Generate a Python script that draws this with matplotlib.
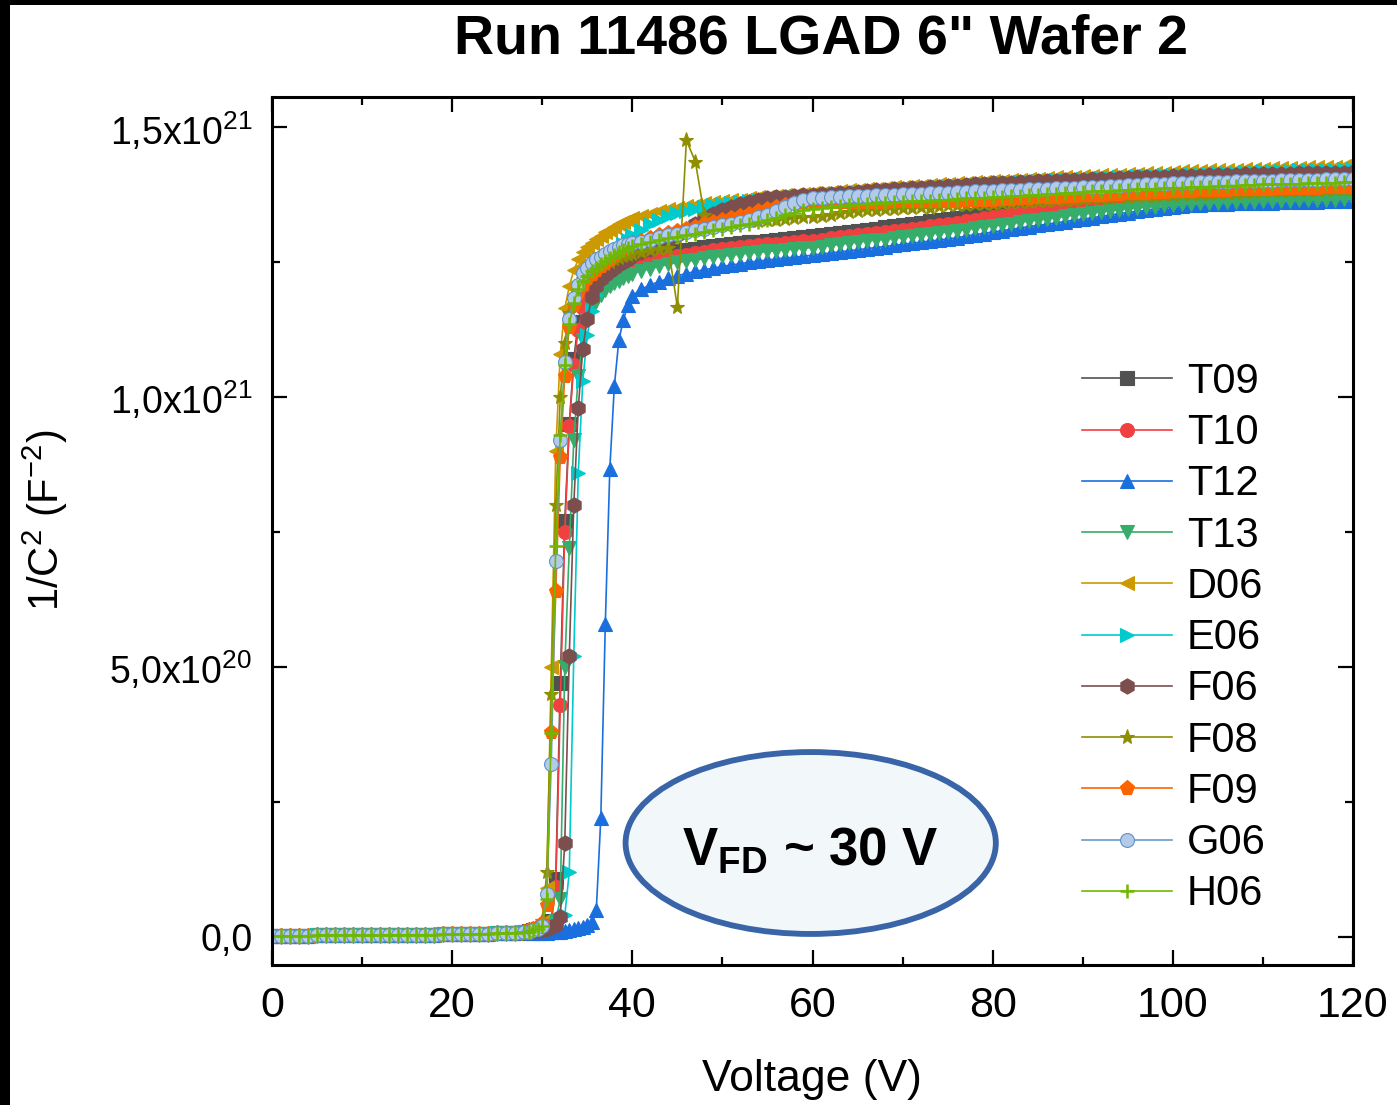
import numpy as np
import matplotlib
matplotlib.use('Agg')
import matplotlib.pyplot as plt
from matplotlib.patches import Ellipse, Rectangle
from matplotlib.ticker import MultipleLocator

plt.rcParams['font.family'] = ['Liberation Sans', 'DejaVu Sans']
plt.rcParams['mathtext.fontset'] = 'custom'
plt.rcParams['mathtext.rm'] = 'Liberation Sans'
plt.rcParams['mathtext.bf'] = 'Liberation Sans:bold'

# Voltage sweep (V): 1 V steps, 0.5 V steps around the depletion knee
volts = np.concatenate([np.arange(0, 29), np.arange(28.5, 40.01, 0.5), np.arange(41, 121)])

# 1/C^2 values in units of 1e19 F^-2
# common baseline 0..28 V
base = [0.2, 0.2, 0.2, 0.2, 0.2, 0.3, 0.3, 0.3, 0.3, 0.3, 0.3, 0.3, 0.3, 0.4, 0.4,
        0.4, 0.4, 0.4, 0.4, 0.5, 0.5, 0.5, 0.5, 0.6, 0.6, 0.7, 0.7, 0.8, 0.9]

# knee 28.5..40 V (0.5 V steps)
t09_knee = [1.1, 1.2, 1.4, 1.6, 2.0, 3.0, 10.7, 47.0, 77.0, 95.0, 107.0, 114.0, 117.5, 119.5, 120.5, 121.4, 122.1, 122.7, 123.3, 123.8, 124.3, 124.7, 125.1, 125.5]
t10_knee = [1.0, 1.1, 1.3, 1.5, 1.9, 2.6, 9.3, 43.0, 75.0, 94.6, 106.0, 112.5, 116.5, 118.8, 120.0, 120.9, 121.6, 122.2, 122.7, 123.2, 123.6, 124.0, 124.4, 124.7]
t12_knee = [0.8, 0.8, 0.8, 0.8, 0.8, 0.9, 0.9, 1.0, 1.1, 1.2, 1.4, 1.6, 1.9, 2.2, 2.7, 5.0, 22.0, 58.0, 86.7, 102.0, 110.5, 114.3, 117.0, 118.8]
t13_knee = [1.0, 1.1, 1.2, 1.4, 1.7, 2.2, 3.0, 7.0, 50.0, 72.0, 92.0, 104.0, 110.5, 114.2, 116.3, 117.8, 118.9, 119.8, 120.5, 121.1, 121.6, 122.1, 122.5, 122.9]
d06_knee = [1.2, 1.4, 1.7, 2.8, 9.0, 50.0, 90.0, 108.0, 116.5, 120.5, 123.5, 125.5, 126.8, 127.8, 128.6, 129.3, 129.9, 130.5, 131.0, 131.5, 132.0, 132.4, 132.8, 133.2]
e06_knee = [1.0, 1.1, 1.2, 1.4, 1.6, 1.9, 2.3, 2.9, 4.0, 12.0, 52.0, 86.0, 103.0, 111.5, 116.0, 119.0, 121.3, 123.2, 124.8, 126.2, 127.4, 128.4, 129.2, 130.0]
f06_knee = [1.0, 1.1, 1.2, 1.3, 1.5, 1.8, 2.3, 3.7, 17.4, 52.0, 80.0, 98.0, 109.0, 114.5, 118.5, 120.5, 121.8, 122.7, 123.4, 124.0, 124.6, 125.1, 125.6, 126.1]
f08_knee = [1.2, 1.4, 1.8, 3.0, 12.0, 45.0, 80.0, 100.0, 110.0, 115.5, 118.5, 120.5, 121.8, 122.7, 123.3, 123.8, 124.3, 124.7, 125.1, 125.5, 125.8, 126.1, 126.4, 126.6]
f09_knee = [1.2, 1.4, 1.7, 2.5, 6.0, 38.0, 64.0, 89.0, 104.0, 113.0, 117.0, 119.5, 121.0, 122.0, 122.8, 123.5, 124.2, 124.9, 125.6, 126.3, 127.0, 127.6, 128.1, 128.6]
g06_knee = [1.0, 1.2, 1.5, 2.0, 8.0, 32.0, 69.7, 92.0, 106.5, 114.4, 118.3, 120.7, 123.0, 124.0, 124.8, 125.5, 126.0, 126.5, 127.0, 127.4, 127.8, 128.1, 128.4, 128.6]
h06_knee = [1.0, 1.2, 1.5, 2.0, 7.0, 37.8, 72.4, 93.0, 106.0, 113.5, 117.5, 120.0, 121.5, 122.5, 123.3, 124.0, 124.6, 125.2, 125.8, 126.3, 126.8, 127.3, 127.7, 128.0]

# plateau 41..120 V (1 V steps)
t09_plat = [126.0, 126.3, 126.5, 126.8, 127.0, 127.3, 127.5, 127.8, 128.0, 128.2,
            128.4, 128.5, 128.7, 128.8, 129.0, 129.2, 129.3, 129.5, 129.6, 129.8,
            130.0, 130.2, 130.4, 130.6, 130.8, 131.0, 131.2, 131.5, 131.7, 131.9,
            132.1, 132.3, 132.6, 132.8, 133.0, 133.2, 133.5, 133.7, 134.0, 134.2,
            134.4, 134.6, 134.9, 135.1, 135.3, 135.5, 135.7, 136.0, 136.2, 136.4,
            136.6, 136.8, 137.0, 137.1, 137.3, 137.4, 137.5, 137.6, 137.7, 137.8,
            137.9, 137.9, 138.0, 138.0, 138.1, 138.2, 138.2, 138.3, 138.3, 138.4,
            138.4, 138.5, 138.5, 138.6, 138.6, 138.6, 138.7, 138.7, 138.8, 138.8]
t10_plat = [125.0, 125.3, 125.6, 125.9, 126.2, 126.4, 126.7, 126.9, 127.2, 127.4,
            127.6, 127.8, 128.0, 128.1, 128.3, 128.4, 128.6, 128.7, 128.9, 129.0,
            129.2, 129.4, 129.6, 129.8, 130.0, 130.2, 130.4, 130.6, 130.8, 131.0,
            131.2, 131.4, 131.7, 131.9, 132.1, 132.3, 132.6, 132.8, 133.1, 133.3,
            133.5, 133.8, 134.0, 134.3, 134.5, 134.7, 134.9, 135.2, 135.4, 135.6,
            135.8, 136.0, 136.2, 136.4, 136.6, 136.8, 136.9, 137.0, 137.2, 137.3,
            137.4, 137.5, 137.6, 137.7, 137.8, 137.9, 137.9, 138.0, 138.1, 138.2,
            138.3, 138.3, 138.4, 138.4, 138.5, 138.6, 138.6, 138.7, 138.7, 138.8]
t12_plat = [120.0, 120.8, 121.4, 122.0, 122.5, 122.9, 123.3, 123.6, 123.9, 124.2,
            124.5, 124.7, 125.0, 125.2, 125.4, 125.6, 125.8, 125.9, 126.1, 126.3,
            126.5, 126.7, 126.9, 127.1, 127.3, 127.5, 127.7, 127.9, 128.1, 128.3,
            128.5, 128.7, 128.9, 129.1, 129.3, 129.5, 129.8, 130.1, 130.3, 130.6,
            130.8, 131.1, 131.3, 131.6, 131.8, 132.0, 132.3, 132.5, 132.8, 133.0,
            133.2, 133.5, 133.7, 134.0, 134.2, 134.4, 134.6, 134.9, 135.1, 135.3,
            135.4, 135.5, 135.6, 135.7, 135.8, 135.8, 135.9, 135.9, 136.0, 136.0,
            136.0, 136.1, 136.1, 136.2, 136.2, 136.2, 136.3, 136.3, 136.4, 136.4]
t13_plat = [123.4, 123.8, 124.2, 124.6, 125.0, 125.2, 125.4, 125.7, 125.9, 126.1,
            126.3, 126.5, 126.7, 126.8, 127.0, 127.1, 127.3, 127.4, 127.6, 127.7,
            127.9, 128.1, 128.3, 128.5, 128.7, 128.9, 129.1, 129.2, 129.4, 129.6,
            129.8, 130.0, 130.2, 130.4, 130.6, 130.8, 131.0, 131.3, 131.5, 131.7,
            131.9, 132.1, 132.4, 132.6, 132.8, 133.0, 133.2, 133.5, 133.7, 133.9,
            134.1, 134.3, 134.5, 134.7, 134.9, 135.0, 135.2, 135.3, 135.5, 135.6,
            135.7, 135.8, 135.9, 135.9, 136.0, 136.1, 136.1, 136.2, 136.2, 136.3,
            136.3, 136.4, 136.4, 136.5, 136.5, 136.5, 136.6, 136.6, 136.7, 136.7]
d06_plat = [133.6, 134.0, 134.4, 134.8, 135.1, 135.4, 135.6, 135.9, 136.1, 136.3,
            136.5, 136.6, 136.8, 137.0, 137.1, 137.3, 137.4, 137.5, 137.7, 137.8,
            137.9, 138.0, 138.2, 138.3, 138.4, 138.5, 138.6, 138.8, 138.9, 139.0,
            139.1, 139.2, 139.3, 139.4, 139.5, 139.6, 139.7, 139.8, 139.9, 140.0,
            140.1, 140.2, 140.3, 140.4, 140.5, 140.6, 140.7, 140.7, 140.8, 140.9,
            141.0, 141.1, 141.2, 141.2, 141.3, 141.4, 141.5, 141.6, 141.6, 141.7,
            141.8, 141.8, 141.9, 142.0, 142.0, 142.1, 142.1, 142.2, 142.3, 142.3,
            142.4, 142.4, 142.5, 142.5, 142.6, 142.6, 142.7, 142.7, 142.8, 142.8]
e06_plat = [131.0, 132.0, 132.8, 133.5, 134.1, 134.5, 134.9, 135.2, 135.5, 135.8,
            136.0, 136.1, 136.3, 136.5, 136.6, 136.7, 136.8, 137.0, 137.1, 137.2,
            137.3, 137.4, 137.6, 137.7, 137.8, 137.9, 138.0, 138.2, 138.3, 138.4,
            138.5, 138.6, 138.7, 138.9, 139.0, 139.1, 139.2, 139.3, 139.4, 139.5,
            139.6, 139.7, 139.8, 139.9, 140.0, 140.1, 140.2, 140.2, 140.3, 140.4,
            140.5, 140.6, 140.6, 140.7, 140.8, 140.9, 141.0, 141.0, 141.1, 141.2,
            141.2, 141.3, 141.4, 141.4, 141.5, 141.6, 141.6, 141.7, 141.7, 141.8,
            141.8, 141.9, 141.9, 142.0, 142.0, 142.0, 142.1, 142.1, 142.2, 142.2]
f06_plat = [126.8, 127.5, 128.3, 129.1, 130.0, 131.0, 132.0, 133.0, 134.0, 134.7,
            135.3, 135.8, 136.2, 136.5, 136.8, 137.0, 137.1, 137.2, 137.4, 137.5,
            137.6, 137.7, 137.8, 137.9, 138.0, 138.1, 138.3, 138.4, 138.5, 138.6,
            138.7, 138.8, 138.9, 139.0, 139.1, 139.2, 139.3, 139.4, 139.5, 139.6,
            139.7, 139.7, 139.8, 139.9, 140.0, 140.1, 140.1, 140.2, 140.3, 140.3,
            140.4, 140.5, 140.5, 140.6, 140.6, 140.7, 140.7, 140.8, 140.8, 140.9,
            140.9, 141.0, 141.0, 141.1, 141.1, 141.2, 141.2, 141.3, 141.3, 141.3,
            141.4, 141.4, 141.4, 141.5, 141.5, 141.5, 141.6, 141.6, 141.6, 141.7]
f08_plat = [126.9, 127.2, 127.4, 127.6, 116.7, 147.6, 143.6, 133.7, 132.5, 132.3,
            132.4, 132.5, 132.6, 132.7, 132.8, 132.9, 133.0, 133.2, 133.3, 133.4,
            133.6, 133.8, 134.1, 134.3, 134.5, 134.6, 134.7, 134.8, 134.9, 135.0,
            135.1, 135.2, 135.0, 135.4, 135.6, 135.5, 135.6, 135.7, 135.7, 135.8,
            135.9, 136.0, 136.1, 136.2, 136.3, 136.4, 136.5, 136.5, 136.6, 136.7,
            136.8, 136.9, 136.9, 137.0, 137.1, 137.2, 137.3, 137.3, 137.4, 137.5,
            137.6, 137.6, 137.7, 137.7, 137.8, 137.9, 137.9, 138.0, 138.0, 138.1,
            138.1, 138.2, 138.2, 138.3, 138.3, 138.4, 138.4, 138.5, 138.5, 138.5]
f09_plat = [129.0, 129.5, 130.0, 130.4, 130.8, 131.2, 131.6, 132.0, 132.4, 132.8,
            133.2, 133.6, 134.0, 134.4, 134.8, 135.2, 135.6, 135.9, 136.1, 136.2,
            136.2, 136.2, 136.2, 136.2, 136.2, 136.2, 136.2, 136.2, 136.3, 136.3,
            136.3, 136.3, 136.3, 136.4, 136.4, 136.4, 136.5, 136.5, 136.6, 136.6,
            136.7, 136.7, 136.8, 136.9, 137.0, 137.0, 137.1, 137.2, 137.3, 137.4,
            137.5, 137.5, 137.6, 137.7, 137.8, 137.8, 137.9, 138.0, 138.0, 138.1,
            138.2, 138.2, 138.3, 138.3, 138.4, 138.4, 138.5, 138.5, 138.6, 138.6,
            138.6, 138.7, 138.7, 138.8, 138.8, 138.8, 138.9, 138.9, 139.0, 139.0]
g06_plat = [128.8, 129.2, 129.6, 130.0, 130.3, 130.6, 130.9, 131.2, 131.5, 131.8,
            132.1, 132.5, 132.9, 133.3, 133.8, 134.4, 135.2, 136.0, 136.5, 136.8,
            136.9, 137.0, 137.1, 137.2, 137.3, 137.3, 137.4, 137.5, 137.5, 137.6,
            137.7, 137.7, 137.8, 137.8, 137.9, 138.0, 138.0, 138.1, 138.1, 138.2,
            138.3, 138.3, 138.4, 138.5, 138.6, 138.6, 138.7, 138.8, 138.8, 138.9,
            139.0, 139.0, 139.1, 139.2, 139.3, 139.3, 139.4, 139.5, 139.5, 139.6,
            139.7, 139.7, 139.8, 139.8, 139.9, 139.9, 140.0, 140.0, 140.1, 140.1,
            140.1, 140.2, 140.2, 140.2, 140.3, 140.3, 140.4, 140.4, 140.5, 140.5]
h06_plat = [128.3, 128.7, 129.1, 129.4, 129.7, 130.0, 130.3, 130.6, 130.9, 131.2,
            131.5, 131.8, 132.1, 132.4, 132.8, 133.2, 133.7, 134.2, 134.6, 134.9,
            135.1, 135.3, 135.4, 135.5, 135.7, 135.8, 135.9, 136.0, 136.1, 136.2,
            136.3, 136.4, 136.4, 136.5, 136.6, 136.7, 136.8, 136.8, 136.9, 137.0,
            137.1, 137.2, 137.3, 137.4, 137.5, 137.6, 137.7, 137.8, 137.9, 138.0,
            138.1, 138.2, 138.2, 138.3, 138.4, 138.5, 138.6, 138.6, 138.7, 138.8,
            138.8, 138.9, 139.0, 139.0, 139.1, 139.2, 139.2, 139.3, 139.3, 139.4,
            139.4, 139.5, 139.5, 139.5, 139.6, 139.6, 139.7, 139.7, 139.8, 139.8]

labels = ['T09', 'T10', 'T12', 'T13', 'D06', 'E06', 'F06', 'F08', 'F09', 'G06', 'H06']
knees = [t09_knee, t10_knee, t12_knee, t13_knee, d06_knee, e06_knee, f06_knee,
         f08_knee, f09_knee, g06_knee, h06_knee]
plats = [t09_plat, t10_plat, t12_plat, t13_plat, d06_plat, e06_plat, f06_plat,
         f08_plat, f09_plat, g06_plat, h06_plat]
colors = ['#515151', '#F14040', '#1A6FDF', '#37AD6B', '#CC9900', '#00CBCC',
          '#7D4E4E', '#8E8E00', '#FB6501', '#6699CC', '#6FB802']
markers = ['s', 'o', '^', 'v', '<', '>', 'h', '*', 'p', 'o', '+']

fig = plt.figure(figsize=(13.97, 11.05), dpi=100)
fig.patch.set_facecolor('black')
# white page with a thin black frame at the top and left
fig.patches.append(Rectangle((10 / 1397, 0), 1, 1 - 5 / 1105, transform=fig.transFigure,
                             facecolor='white', edgecolor='none', zorder=-10))
ax = fig.add_axes([272 / 1397, 140 / 1105, 1081 / 1397, 868 / 1105])
ax.set_zorder(2)

for lab, kn, pl, col, mk in zip(labels, knees, plats, colors, markers):
    vals = np.array(base + kn + pl) * 1e19
    face = col
    edge = col
    if lab == 'G06':
        face = '#b3cbe8'
        edge = '#5f92c8'
    ax.plot(volts, vals, color=col, lw=1.2, marker=mk, ms=11 if mk in ('*', 'h', 'p') else 10,
            mfc=face, mec=edge, mew=1.8 if mk == '+' else 0.8, label=lab)

ax.set_xlim(0, 120)
ax.set_ylim(-0.052e21, 1.556e21)
ax.xaxis.set_major_locator(MultipleLocator(20))
ax.xaxis.set_minor_locator(MultipleLocator(10))
ax.set_yticks([0, 0.5e21, 1.0e21, 1.5e21])
ax.set_yticklabels(['0,0', r'5,0x10$^{20}$', r'1,0x10$^{21}$', r'1,5x10$^{21}$'])
ax.yaxis.set_minor_locator(MultipleLocator(0.25e21))
ax.tick_params(which='both', direction='in', top=True, right=True, width=1.6)
ax.tick_params(which='major', length=11)
ax.tick_params(which='minor', length=6)
ax.tick_params(axis='x', labelsize=31, pad=15)
ax.tick_params(axis='y', labelsize=27, pad=14)
for sp in ax.spines.values():
    sp.set_linewidth(2.2)

fig.text(812 / 1397, 1 - 1080 / 1105, 'Voltage (V)', fontsize=32, ha='center', va='center')
fig.text(45 / 1397, 1 - 520 / 1105, r'1/C$^2$ (F$^{-2}$)', fontsize=30, ha='center',
         va='center', rotation=90)

fig.text(821 / 1397, 1 - 40 / 1105, 'Run 11486 LGAD 6" Wafer 2', fontsize=40,
         fontweight='bold', ha='center', va='center')

ax.add_patch(Ellipse((59.8, 1.74e20), 41.1, 3.37e20, facecolor='#f2f7fa',
                     edgecolor='#3a64a8', lw=4.2, zorder=5))
ax.text(59.8, 1.60e20, r'V$_{\mathbf{FD}}$ ~ 30 V', fontsize=38, fontweight='bold',
        ha='center', va='center', zorder=6)

ax.legend(loc='upper left', bbox_to_anchor=(1082 / 1397, 1 - 362 / 1105),
          bbox_transform=fig.transFigure, frameon=False, fontsize=30, numpoints=1,
          handlelength=2.16, handletextpad=0.36, labelspacing=0.27, borderpad=0,
          borderaxespad=0)

fig.savefig('out.png', dpi=100, facecolor=fig.get_facecolor())
